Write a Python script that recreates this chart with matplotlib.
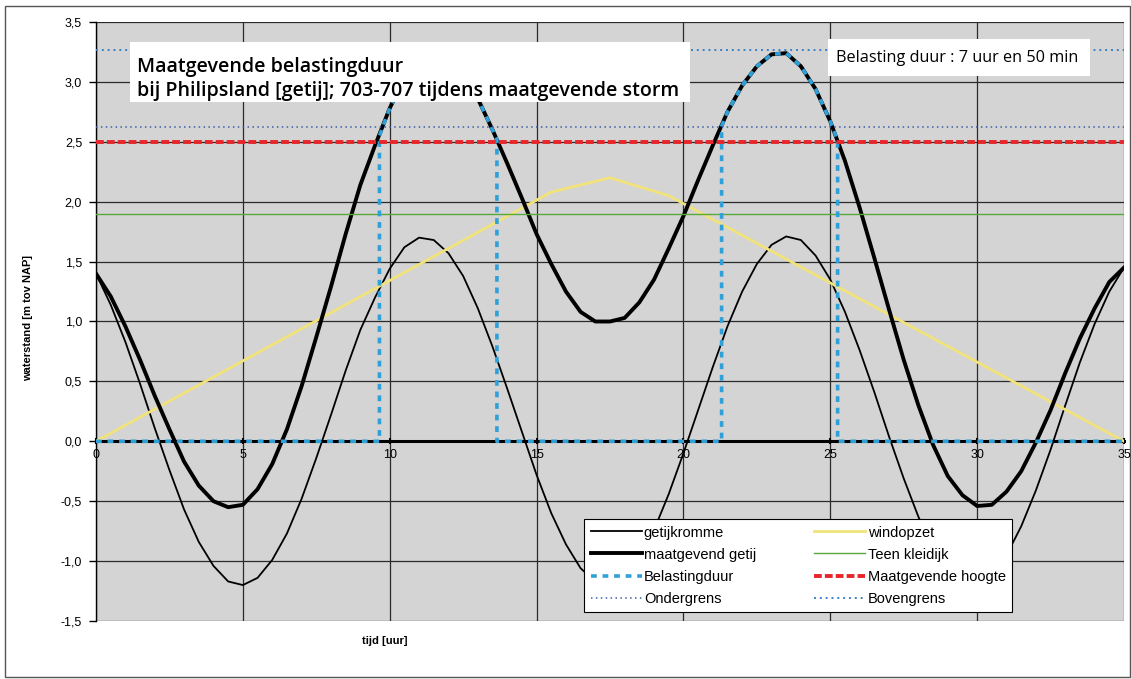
import matplotlib
matplotlib.use("Agg")
import matplotlib.pyplot as plt
from matplotlib.patches import Rectangle

# ---------------- data ----------------
tijd = [0.0, 0.5, 1.0, 1.5, 2.0, 2.5, 3.0, 3.5, 4.0, 4.5, 5.0, 5.5, 6.0, 6.5, 7.0, 7.5,
        8.0, 8.5, 9.0, 9.5, 10.0, 10.5, 11.0, 11.5, 12.0, 12.5, 13.0, 13.5, 14.0, 14.5,
        15.0, 15.5, 16.0, 16.5, 17.0, 17.5, 18.0, 18.5, 19.0, 19.5, 20.0, 20.5, 21.0,
        21.5, 22.0, 22.5, 23.0, 23.5, 24.0, 24.5, 25.0, 25.5, 26.0, 26.5, 27.0, 27.5,
        28.0, 28.5, 29.0, 29.5, 30.0, 30.5, 31.0, 31.5, 32.0, 32.5, 33.0, 33.5, 34.0,
        34.5, 35.0]

getijkromme = [1.40, 1.14, 0.83, 0.48, 0.11, -0.24, -0.57, -0.84, -1.04, -1.17, -1.20,
               -1.14, -0.99, -0.77, -0.48, -0.14, 0.22, 0.59, 0.93, 1.20, 1.44, 1.62,
               1.70, 1.68, 1.57, 1.38, 1.11, 0.79, 0.44, 0.08, -0.28, -0.60, -0.86,
               -1.06, -1.17, -1.20, -1.13, -0.97, -0.74, -0.44, -0.10, 0.26, 0.62,
               0.96, 1.25, 1.48, 1.64, 1.71, 1.68, 1.55, 1.35, 1.08, 0.76, 0.41, 0.04,
               -0.31, -0.63, -0.89, -1.08, -1.18, -1.20, -1.12, -0.95, -0.71, -0.41,
               -0.07, 0.30, 0.66, 0.98, 1.25, 1.45]

maatgevend_getij = [1.40, 1.21, 0.96, 0.68, 0.38, 0.10, -0.17, -0.37, -0.50, -0.55,
                    -0.53, -0.40, -0.19, 0.10, 0.46, 0.87, 1.29, 1.73, 2.14, 2.47,
                    2.78, 3.03, 3.18, 3.22, 3.18, 3.06, 2.86, 2.60, 2.32, 2.03, 1.73,
                    1.48, 1.25, 1.08, 1.00, 1.00, 1.03, 1.16, 1.35, 1.61, 1.88, 2.18,
                    2.47, 2.75, 2.97, 3.13, 3.23, 3.24, 3.13, 2.94, 2.67, 2.34, 1.95,
                    1.53, 1.10, 0.68, 0.30, -0.03, -0.29, -0.45, -0.54, -0.53, -0.42,
                    -0.25, -0.01, 0.26, 0.57, 0.86, 1.11, 1.33, 1.45]

wind_t = [0.0, 15.5, 17.5, 19.5, 35.0]
windopzet = [0.0, 2.08, 2.20, 2.05, 0.0]

belast_t = [0.0, 9.65, 9.65, 10.0, 10.5, 11.0, 11.5, 12.0, 12.5, 13.0, 13.5, 13.65,
            13.65, 21.3, 21.3, 21.5, 22.0, 22.5, 23.0, 23.5, 24.0, 24.5, 25.0, 25.25,
            25.25, 35.0]
belastingduur = [0.0, 0.0, 2.55, 2.78, 3.03, 3.18, 3.22, 3.18, 3.06, 2.86, 2.60, 2.52,
                 0.0, 0.0, 2.63, 2.75, 2.97, 3.13, 3.23, 3.24, 3.13, 2.94, 2.67, 2.51,
                 0.0, 0.0]

teen_kleidijk = 1.90
maatgevende_hoogte = 2.50
ondergrens = 2.62
bovengrens = 3.27

xticks = [0, 5, 10, 15, 20, 25, 30, 35]
yticks = [-1.5, -1.0, -0.5, 0.0, 0.5, 1.0, 1.5, 2.0, 2.5, 3.0, 3.5]
ytick_labels = ["-1,5", "-1,0", "-0,5", "0,0", "0,5", "1,0", "1,5", "2,0", "2,5", "3,0", "3,5"]

title_text = "Maatgevende belastingduur\nbij Philipsland [getij]; 703-707 tijdens maatgevende storm"
duur_text = "Belasting duur : 7 uur en 50 min"

# ---------------- figure ----------------
W, H = 1131, 679
plt.rcParams['font.family'] = ['Liberation Sans', 'DejaVu Sans']
fig = plt.figure(figsize=(W / 100, H / 100), dpi=100)
fig.patch.set_facecolor('white')


def fx(px):
    return px / W


def fy(py):
    return 1 - py / H


ax = fig.add_axes([fx(96), fy(621), fx(1124) - fx(96), fy(22) - fy(621)])
ax.set_facecolor('#d4d4d4')
ax.set_xlim(0, 35)
ax.set_ylim(-1.5, 3.5)

ax.set_xticks(xticks)
ax.set_xticklabels([str(v) for v in xticks])
ax.set_yticks(yticks)
ax.set_yticklabels(ytick_labels)
ax.grid(True, color='#2a2a2a', linewidth=0.9)
ax.set_axisbelow(True)

for s in ['top', 'right']:
    ax.spines[s].set_visible(False)
ax.spines['left'].set_linewidth(1.0)
ax.spines['bottom'].set_position(('data', 0))
ax.spines['bottom'].set_linewidth(2.2)
ax.spines['bottom'].set_zorder(2.5)
ax.tick_params(axis='x', direction='inout', length=5, width=1.5, labelsize=9, pad=3)
ax.tick_params(axis='y', direction='out', length=5, width=1, labelsize=9, pad=5)

l1, = ax.plot(tijd, getijkromme, color='black', lw=1.3, zorder=3, label='getijkromme',
              solid_joinstyle='round')
l2, = ax.plot(wind_t, windopzet, color='#f1e27a', lw=2.0, zorder=3.1, label='windopzet')
l3, = ax.plot(tijd, maatgevend_getij, color='black', lw=2.8, zorder=3.2,
              label='maatgevend getij', solid_joinstyle='round')
l4 = ax.axhline(teen_kleidijk, color='#5aa83a', lw=1.0, zorder=3.3, label='Teen kleidijk')
l5, = ax.plot(belast_t, belastingduur, color='#2fa0d8', lw=2.6, zorder=3.4,
              linestyle=(0, (1.6, 1.6)), label='Belastingduur')
l6 = ax.axhline(maatgevende_hoogte, color='#e8262a', lw=2.8, zorder=3.5,
                linestyle=(0, (2.0, 0.8)), label='Maatgevende hoogte')
l7 = ax.axhline(ondergrens, color='#3d5fa8', lw=1.1, zorder=3.6,
                linestyle=(0, (1, 2.2)), label='Ondergrens')
l8 = ax.axhline(bovengrens, color='#3a80c8', lw=1.4, zorder=3.7,
                linestyle=(0, (1, 2)), label='Bovengrens')

handles = [l1, l3, l5, l7, l2, l4, l6, l8]
leg = ax.legend(handles=handles, ncol=2, loc='upper left',
                bbox_to_anchor=(fx(584), fy(519)), bbox_transform=fig.transFigure,
                borderaxespad=0, fontsize=10.5, handlelength=3.5, handletextpad=0.15,
                columnspacing=4.0, labelspacing=0.55, frameon=True, fancybox=False,
                edgecolor='black', framealpha=1, borderpad=0.45)
leg.get_frame().set_linewidth(0.8)
leg.set_zorder(10)

# title boxes
fig.add_artist(Rectangle((fx(130), fy(102)), fx(690) - fx(130), fy(42) - fy(102),
                         transform=fig.transFigure, facecolor='white', edgecolor='none', zorder=5))
fig.text(fx(137), fy(79), title_text, fontsize=14.1, fontfamily='Open Sans',
         fontweight='semibold', va='center', ha='left', linespacing=1.3, zorder=6)

fig.add_artist(Rectangle((fx(828), fy(76)), fx(1090) - fx(828), fy(39) - fy(76),
                         transform=fig.transFigure, facecolor='white', edgecolor='none', zorder=5))
fig.text(fx(836), fy(58), duur_text, fontsize=11.7, fontfamily='Open Sans',
         va='center', ha='left', zorder=6)

# axis labels
fig.text(fx(385), fy(641), "tijd [uur]", fontsize=8, fontweight='bold', ha='center', va='center')
fig.text(fx(28), fy(318), "waterstand [m tov NAP]", fontsize=8, fontweight='bold',
         rotation=90, ha='center', va='center')

# outer frame
fig.add_artist(Rectangle((fx(5), fy(677)), fx(1130) - fx(5), fy(6) - fy(677),
                         transform=fig.transFigure, facecolor='none', edgecolor='#555555',
                         lw=1.0, zorder=0))

fig.savefig('out.png', dpi=100)
